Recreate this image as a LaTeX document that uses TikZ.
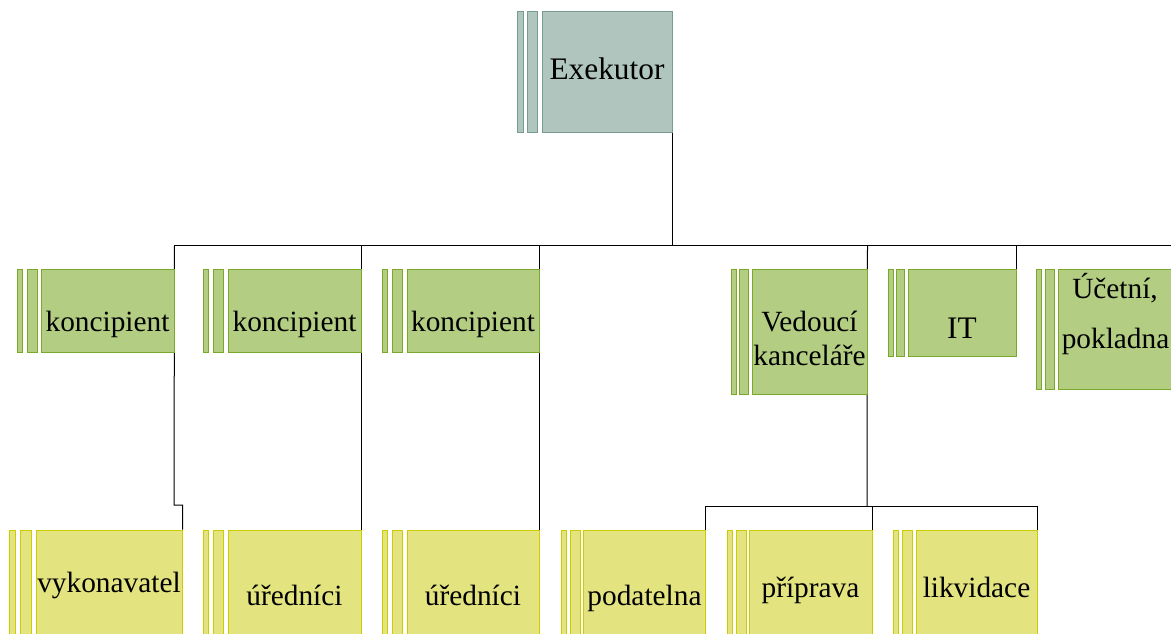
\documentclass[tikz,border=0pt]{standalone}
\usepackage{fontspec}
\setmainfont{Liberation Serif}
\usetikzlibrary{backgrounds}
\definecolor{exefill}{RGB}{176,197,190}
\definecolor{exeline}{RGB}{118,158,140}
\definecolor{lvtwofill}{RGB}{179,205,131}
\definecolor{lvtwoline}{RGB}{122,168,40}
\definecolor{lvthreefill}{RGB}{227,228,128}
\definecolor{lvthreeline}{RGB}{204,204,0}
\tikzset{
  topbox/.style={draw=exeline,fill=exefill,line width=0.75pt},
  midbox/.style={draw=lvtwoline,fill=lvtwofill,line width=0.75pt},
  lowbox/.style={draw=lvthreeline,fill=lvthreefill,line width=0.75pt},
  lbl/.style={anchor=base,inner sep=0pt,font=\fontsize{22pt}{26pt}\selectfont},
  biglbl/.style={anchor=base,inner sep=0pt,font=\fontsize{23.5pt}{27pt}\selectfont},
  conn/.style={draw=black,line width=0.75pt}
}
% name, style, bar1 left, bar1 right, bar2 left, bar2 right, main left, main right; top/bottom from \otop,\obot
\newcommand\orgbox[8]{%
  \pgfmathsetmacro\obw{(#8-#7)*0.75}%
  \pgfmathsetmacro\obh{(\obot-\otop)*0.75}%
  \draw[#2] (#3,\otop) rectangle (#4,\obot);
  \draw[#2] (#5,\otop) rectangle (#6,\obot);
  \node[#2,minimum width=\obw pt,minimum height=\obh pt,inner sep=0pt] (#1) at ({(#7+#8)/2},{(\otop+\obot)/2}) {};
}
\begin{document}
\begin{tikzpicture}[x=0.75pt,y=-0.75pt]
\useasboundingbox (0,0) rectangle (1171,633);
% top
\def\otop{11}\def\obot{132}
\orgbox{exe}{topbox}{517}{523}{527}{537}{542}{672}
% level 2
\def\otop{269}\def\obot{352}
\orgbox{kone}{midbox}{17}{22.5}{27}{37}{41}{174}
\orgbox{kontwo}{midbox}{203}{208.5}{213}{223}{228}{361}
\orgbox{konthree}{midbox}{382}{387.5}{392}{402}{407}{539}
\def\obot{394}
\orgbox{vk}{midbox}{731}{736}{739}{748}{752}{867}
\def\obot{356}
\orgbox{it}{midbox}{888}{893}{896}{904}{908}{1016}
\def\obot{389}
\orgbox{uc}{midbox}{1036}{1041.5}{1045}{1054}{1058}{1173}
% level 3
\def\otop{530}\def\obot{660}
\orgbox{vyk}{lowbox}{9}{15.5}{20}{31.5}{36}{182}
\orgbox{urone}{lowbox}{203}{208.5}{213}{223}{228}{361}
\orgbox{urtwo}{lowbox}{382}{387.5}{392}{402.5}{407}{539}
\orgbox{pod}{lowbox}{561}{566}{570}{580}{583}{705}
\orgbox{pri}{lowbox}{727}{732}{736}{746}{749}{872}
\orgbox{lik}{lowbox}{893}{898.5}{902}{912}{916}{1037}
% texts
\node[biglbl] (texe) at (607,79) {Exekutor};
\node[lbl] (tkone) at (107.5,331) {koncipient};
\node[lbl] (tkontwo) at (294.5,331) {koncipient};
\node[lbl] (tkonthree) at (473,331) {koncipient};
\node[lbl] (tvka) at (809.5,331) {Vedoucí};
\node[lbl] (tvkb) at (809.5,365) {kanceláře};
\node[biglbl] (tit) at (962,338) {IT};
\node[lbl] (tuca) at (1115,298) {Účetní,};
\node[lbl] (tucb) at (1115.5,348) {pokladna};
\node[lbl] (tvyk) at (109,592) {vykonavatel};
\node[lbl] (turone) at (294.5,605) {úředníci};
\node[lbl] (turtwo) at (473,605) {úředníci};
\node[lbl] (tpod) at (644.5,605) {podatelna};
\node[lbl] (tpri) at (810.5,597) {příprava};
\node[lbl] (tlik) at (976.5,597) {likvidace};
% connectors
\begin{scope}[on background layer]
\coordinate (bus) at (672,245);
\coordinate (sub) at (867,506);
\coordinate (jog) at (174,505);
\draw[conn] (exe.south east) -- (exe.south east |- bus);
\draw[conn] (kone.north east |- bus) -- (uc.north east |- bus);
\draw[conn] (kone.north east |- bus) -- (jog) -| (vyk.north east);
\draw[conn] (kontwo.north east |- bus) -- (urone.north east);
\draw[conn] (konthree.north east |- bus) -- (urtwo.north east);
\draw[conn] (vk.north east |- bus) -- (sub);
\draw[conn] (pod.north east) |- (lik.north east |- sub) -- (lik.north east);
\draw[conn] (pri.north east) -- (pri.north east |- sub);
\draw[conn] (it.north east |- bus) -- (it.north east);
\end{scope}
\end{tikzpicture}
\end{document}
